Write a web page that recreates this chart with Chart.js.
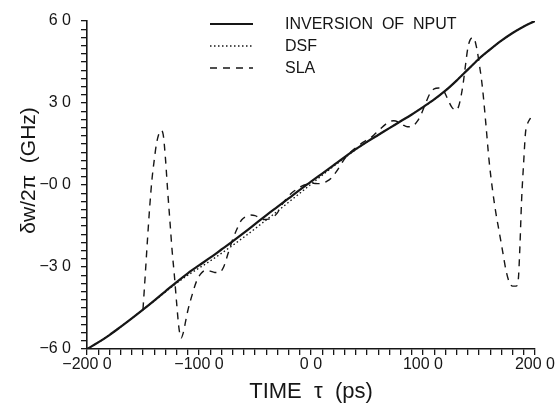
<!DOCTYPE html>
<html>
<head>
<meta charset="utf-8">
<script src="https://cdn.jsdelivr.net/npm/chart.js@4"></script>
<style>
  html, body { margin: 0; padding: 0; background: #fff; }
  #wrap { width: 555px; height: 408px; }
</style>
</head>
<body>
<div id="wrap"><canvas id="chirp"></canvas></div>
<script>
// time grid (ps) for the inverted input chirp and the DSF retrieval
const timeGrid = [-200, -190, -180, -170, -160, -150, -140, -130, -120, -110, -100,
  -90, -80, -70, -60, -50, -40, -30, -20, -10, 0, 10, 20, 30, 40, 50, 60, 70, 80, 90,
  100, 110, 120, 130, 140, 150, 160, 170, 180, 190, 200];

// frequency deviation (GHz)
const inversionValues = [-60, -57.6, -54.9, -51.9, -48.8, -45.6, -42.3, -38.9, -35.5, -32.3, -29.4,
  -26.6, -23.6, -20.6, -17.5, -14.3, -11.1, -8.0, -4.9, -1.8, 1.2, 4.2, 7.2, 10.2, 13.1, 15.8,
  18.3, 20.8, 23.3, 25.8, 28.5, 31.3, 34.5, 38.2, 42.2, 46.2, 49.6, 52.8, 55.6, 58.0, 60];

const dsfValues = [-60, -57.6, -54.9, -51.9, -48.8, -45.6, -42.4, -39.1, -35.9, -33.0, -30.4,
  -27.8, -25.0, -22.1, -19.1, -16.0, -12.8, -9.6, -6.3, -3.0, 0.3, 3.6, 6.8, 9.9, 13.0, 15.8,
  18.3, 20.8, 23.3, 25.8, 28.5, 31.3, 34.5, 38.2, 42.2, 46.2, 49.6, 52.8, 55.6, 58.0, 60];

// SLA retrieval, sampled on its own time points
const slaTimes = [-150, -148, -146, -144, -142, -140, -138, -136, -134, -132, -130, -128, -126,
  -124, -122, -120, -118, -116, -114, -112, -110, -106, -102, -98, -94, -90, -86, -82, -78,
  -74, -70, -66, -62, -58, -54, -50, -46, -42, -38, -34, -30, -26, -22, -18, -14, -10, -6,
  -2, 2, 6, 10, 14, 18, 22, 26, 30, 34, 38, 42, 46, 50, 54, 58, 62, 66, 70, 74, 78, 82, 86,
  90, 94, 98, 102, 106, 110, 114, 118, 122, 126, 130, 132, 134, 136, 138, 140, 142, 145,
  148, 150, 153, 156, 159, 162, 165, 168, 171, 174, 177, 180, 183, 185, 186.5, 188, 190,
  191.5, 193, 196];
const slaValues = [-45.5, -33, -20, -8, 2, 9, 15, 18.5, 20, 18.5, 10, -2, -13,
  -24, -33, -43, -52, -56, -54, -50, -46, -40, -35, -32.3, -31.2, -31.5, -32, -32, -30,
  -25, -20, -16, -12.8, -11.5, -11, -11.2, -12, -12.6, -12.5, -11.8, -10.2, -7.3, -5, -3.2, -1.9, -0.8, 0,
  0.5, 0.6, 0.5, 0.6, 1.3, 2.5, 4.5, 7, 9.6, 11.5, 13, 14.2, 15.5, 16.5, 17.5, 19, 20.5, 22, 23.2, 23.5, 23, 22, 21.3,
  21.4, 22.8, 25.5, 29.5, 33.3, 35.2, 35.5, 34.8, 31.5, 28.3, 27.4, 29, 32.5, 37.5, 44, 50, 53, 54,
  50, 45, 36, 23, 9, -1.5, -10, -17, -24, -31, -35.5, -37, -37, -35, -23, -6, 9,
  19, 22, 24.5];

const seriesNames = ["INVERSION  OF  NPUT", "DSF", "SLA"];
const xTickLabels = ["\u2212200 0", "\u2212100 0", "0 0", "100 0", "200 0"];
const yTickLabels = ["\u22126 0", "\u22123 0", "\u22120 0", "3 0", "6 0"];

const ink = "#161616";
const font = "'Liberation Sans', Arial, sans-serif";

const toPoints = (xs, ys) => xs.map((x, i) => ({ x: x, y: ys[i] }));

// legend drawn inside the plot, upper right
const insideLegend = {
  id: "insideLegend",
  afterDraw(chart) {
    const ctx = chart.ctx;
    ctx.save();
    ctx.font = "16px " + font;
    ctx.fillStyle = ink;
    ctx.textBaseline = "middle";
    chart.data.datasets.forEach((ds, i) => {
      const y = 24 + i * 22;
      ctx.strokeStyle = ds.borderColor;
      ctx.lineWidth = ds.borderWidth;
      ctx.setLineDash(ds.borderDash || []);
      ctx.beginPath();
      ctx.moveTo(210, y);
      ctx.lineTo(253, y);
      ctx.stroke();
      ctx.fillText(ds.label, 285, y + 1);
    });
    ctx.restore();
  },
};

new Chart(document.getElementById("chirp"), {
  type: "line",
  data: {
    datasets: [
      {
        label: seriesNames[0],
        data: toPoints(timeGrid, inversionValues),
        borderColor: ink,
        borderWidth: 2.2,
        pointRadius: 0,
        cubicInterpolationMode: "monotone",
      },
      {
        label: seriesNames[1],
        data: toPoints(timeGrid, dsfValues),
        borderColor: ink,
        borderWidth: 1.4,
        borderDash: [1.5, 2.5],
        pointRadius: 0,
        cubicInterpolationMode: "monotone",
      },
      {
        label: seriesNames[2],
        data: toPoints(slaTimes, slaValues),
        borderColor: ink,
        borderWidth: 1.4,
        borderDash: [7, 6],
        pointRadius: 0,
        cubicInterpolationMode: "monotone",
      },
    ],
  },
  options: {
    responsive: true,
    maintainAspectRatio: false,
    animation: false,
    layout: { padding: { top: 21, right: 20, bottom: 2, left: 6 } },
    plugins: {
      legend: { display: false },
      tooltip: { enabled: false },
    },
    scales: {
      x: {
        type: "linear",
        min: -200,
        max: 200,
        afterFit: (scale) => { scale.height = 57; },
        border: { display: true, color: ink, width: 1.6 },
        grid: { drawOnChartArea: false, drawTicks: true, tickLength: 6, color: ink, lineWidth: 1.3 },
        ticks: {
          stepSize: 10,
          autoSkip: false,
          maxRotation: 0,
          padding: 0,
          color: ink,
          font: { family: font, size: 16 },
          callback: (v) => (v % 100 === 0 ? xTickLabels[(v + 200) / 100] : ""),
        },
        title: {
          display: true,
          text: "TIME  \u03c4  (ps)",
          color: ink,
          font: { family: font, size: 22 },
          padding: { top: 0, bottom: 1 },
        },
      },
      y: {
        min: -60,
        max: 60,
        afterFit: (scale) => { scale.width = 81; },
        border: { display: true, color: ink, width: 1.6 },
        grid: { drawOnChartArea: false, drawTicks: true, tickLength: 6, color: ink, lineWidth: 1.3 },
        ticks: {
          stepSize: 3,
          autoSkip: false,
          padding: 10,
          color: ink,
          font: { family: font, size: 16 },
          callback: (v) => (v % 30 === 0 ? yTickLabels[(v + 60) / 30] : ""),
        },
        title: {
          display: true,
          // leading spaces lift the rotated label a little above the axis centre
          text: "     \u03b4w/2\u03c0  (GHz)",
          color: ink,
          font: { family: font, size: 21 },
          padding: { top: 11, bottom: 0 },
        },
      },
    },
  },
  plugins: [insideLegend],
});
</script>
</body>
</html>
